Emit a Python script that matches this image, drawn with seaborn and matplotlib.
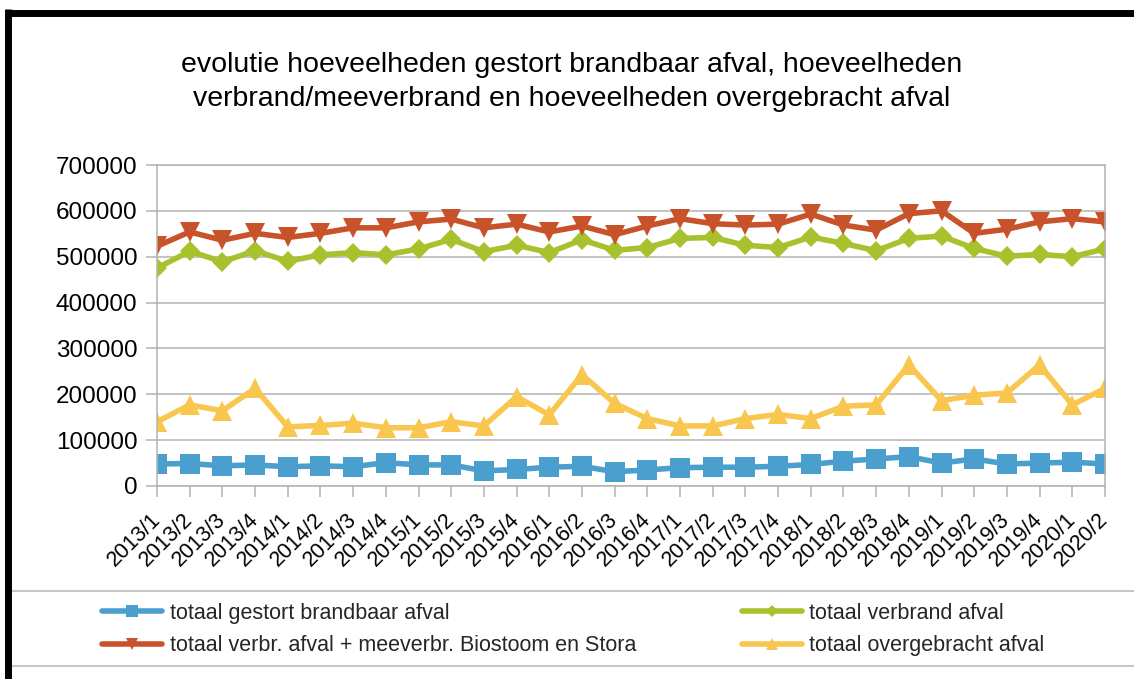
#!/usr/bin/env python
# afval evolutie per kwartaal, 2013/1 - 2020/2

import matplotlib
matplotlib.use('Agg')
import matplotlib.pyplot as plt
from matplotlib.lines import Line2D
from matplotlib.patches import Rectangle
import pandas as pd
import seaborn as sns

periods = ['2013/1', '2013/2', '2013/3', '2013/4', '2014/1', '2014/2', '2014/3', '2014/4',
           '2015/1', '2015/2', '2015/3', '2015/4', '2016/1', '2016/2', '2016/3', '2016/4',
           '2017/1', '2017/2', '2017/3', '2017/4', '2018/1', '2018/2', '2018/3', '2018/4',
           '2019/1', '2019/2', '2019/3', '2019/4', '2020/1', '2020/2']

gestort = [48000, 49000, 44000, 46000, 42000, 44000, 42000, 51000,
           46000, 46000, 33000, 36000, 41000, 43000, 31000, 35000,
           40000, 41000, 41000, 43000, 47000, 54000, 59000, 64000,
           50000, 59000, 48000, 50000, 52000, 48000]
verbrand = [475000, 512000, 489000, 513000, 490000, 504000, 509000, 504000,
            517000, 538000, 511000, 525000, 509000, 537000, 514000, 520000,
            540000, 542000, 525000, 520000, 543000, 529000, 513000, 540000,
            545000, 518000, 501000, 505000, 500000, 517000]
verbr_meeverbr = [523000, 554000, 536000, 551000, 542000, 551000, 563000, 563000,
                  576000, 582000, 563000, 571000, 554000, 567000, 548000, 567000,
                  583000, 572000, 569000, 571000, 593000, 569000, 558000, 594000,
                  600000, 551000, 560000, 576000, 583000, 576000]
overgebracht = [140000, 177000, 164000, 213000, 129000, 132000, 137000, 127000,
                127000, 140000, 131000, 195000, 155000, 243000, 180000, 147000,
                131000, 131000, 147000, 156000, 147000, 174000, 177000, 264000,
                186000, 198000, 203000, 264000, 177000, 213000]

series = [
    ('totaal gestort brandbaar afval', gestort, '#4a9fcf', 's', 14.5),
    ('totaal verbrand afval', verbrand, '#a8c22e', 'D', 10),
    ('totaal verbr. afval + meeverbr. Biostoom en Stora', verbr_meeverbr, '#c8532a', 'v', 14.5),
    ('totaal overgebracht afval', overgebracht, '#f9c74f', '^', 14.5),
]

sns.set_theme(style="white")
plt.rcParams['font.family'] = ['Liberation Sans', 'DejaVu Sans']

fig = plt.figure(figsize=(11.34, 6.79), dpi=100)
ax = fig.add_axes([157 / 1134, 1 - 486 / 679, (1105 - 157) / 1134, (486 - 165) / 679])

x_pos = list(range(len(periods)))
handles = {}
for name, values, color, marker, msize in series:
    df = pd.DataFrame({'x': x_pos, 'y': values})
    sns.lineplot(data=df, x='x', y='y', ax=ax, color=color, linewidth=4,
                 marker=marker, markersize=msize, markeredgewidth=0,
                 legend=False)
    handles[name] = ax.get_lines()[-1]

grid_grey = '#b3b3b3'
ax.set_xlim(0, len(periods) - 1)
ax.set_ylim(0, 700000)
ax.set_yticks(range(0, 700001, 100000))
ax.set_yticklabels([str(v) for v in range(0, 700001, 100000)], fontsize=17.5)
ax.set_xticks(x_pos)
ax.set_xticklabels(periods, fontsize=15.5, rotation=45, ha='right',
                   va='center', rotation_mode='anchor')
ax.yaxis.grid(True, color=grid_grey, linewidth=1.1)
ax.set_axisbelow(True)
ax.tick_params(axis='both', bottom=True, left=True, direction='out', length=8,
               width=1.1, color=grid_grey, labelcolor='black')
ax.tick_params(axis='x', pad=14)
ax.tick_params(axis='y', pad=6)
for side in ['left', 'right', 'top', 'bottom']:
    ax.spines[side].set_color(grid_grey)
    ax.spines[side].set_linewidth(1.1)
ax.set_xlabel('')
ax.set_ylabel('')

fig.text(0.504, 0.879,
         'evolutie hoeveelheden gestort brandbaar afval, hoeveelheden\n'
         'verbrand/meeverbrand en hoeveelheden overgebracht afval',
         ha='center', va='center', fontsize=20.5, color='black',
         linespacing=1.38)

# legend box
fig.patches.append(Rectangle((7 / 1134, 1 - 666 / 679), 1.2, 75 / 679,
                             transform=fig.transFigure, fill=False,
                             edgecolor='#c8c8c8', linewidth=1.5))
order = ['totaal gestort brandbaar afval',
         'totaal verbr. afval + meeverbr. Biostoom en Stora',
         'totaal verbrand afval',
         'totaal overgebracht afval']
fig.legend([handles[n] for n in order], order, ncol=2, loc='center left',
           bbox_to_anchor=(102 / 1134, 1 - 629.5 / 679), frameon=False,
           fontsize=15.5, handlelength=2.8, handletextpad=0.35,
           columnspacing=4.9, labelspacing=0.55, borderpad=0,
           borderaxespad=0, markerscale=0.6)

# black outer border (top and left only visible)
fig.lines.append(Line2D([7.5 / 1134, 1.0], [1 - 12.5 / 679, 1 - 12.5 / 679],
                        transform=fig.transFigure, color='black', linewidth=5,
                        solid_capstyle='butt'))
fig.lines.append(Line2D([7.5 / 1134, 7.5 / 1134], [0, 1 - 9 / 679],
                        transform=fig.transFigure, color='black', linewidth=5,
                        solid_capstyle='butt'))

plt.savefig('out.png', dpi=100, facecolor='white')
